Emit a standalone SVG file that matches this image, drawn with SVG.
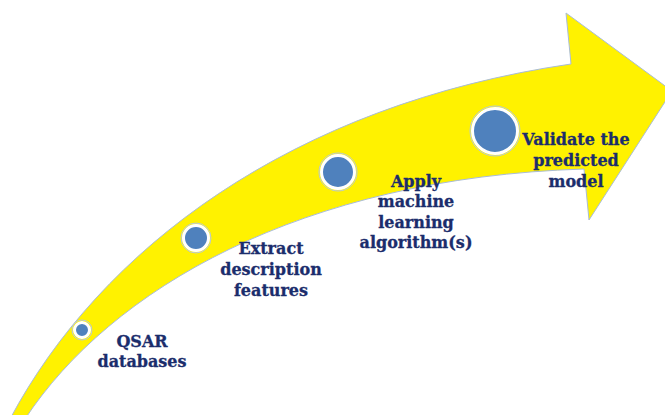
<svg xmlns="http://www.w3.org/2000/svg" width="665" height="415" viewBox="0 0 665 415">
  <style>
    .lbl { font-family: "DejaVu Serif", "Liberation Serif", serif; font-weight: bold; font-size: 16px; fill: #1b2d6c; stroke: #1b2d6c; stroke-width: 0.3; text-anchor: middle; }
    .dot { fill: #4f81bd; stroke: #ffffff; stroke-width: 3; }
    .ring { fill: none; stroke: #b8c8de; stroke-width: 1; }
  </style>
  <rect width="665" height="415" fill="#ffffff"/>
  <g id="arrow">
    <path d="M 10,419 C 100,250 290,105 571,64 L 566,13 L 672,91 L 589,220 L 584,169 C 300,178 110,290 25,419 Z" fill="#fff200" stroke="#a9bcd8" stroke-width="1" stroke-linejoin="miter"/>
  </g>
  <g id="connectors"></g>
  <g id="node-qsar">
    <circle class="ring" cx="82" cy="330" r="10"/>
    <circle class="dot" cx="82" cy="330" r="7.5"/>
    <text class="lbl" x="142" y="347">QSAR</text>
    <text class="lbl" x="142" y="367">databases</text>
  </g>
  <g id="node-extract">
    <circle class="ring" cx="196" cy="238" r="15"/>
    <circle class="dot" cx="196" cy="238" r="12.5"/>
    <text class="lbl" x="271" y="254">Extract</text>
    <text class="lbl" x="271" y="275">description</text>
    <text class="lbl" x="271" y="296">features</text>
  </g>
  <g id="node-apply">
    <circle class="ring" cx="338" cy="172" r="19"/>
    <circle class="dot" cx="338" cy="172" r="16.5"/>
    <text class="lbl" x="416" y="187">Apply</text>
    <text class="lbl" x="416" y="207">machine</text>
    <text class="lbl" x="416" y="228">learning</text>
    <text class="lbl" x="416" y="248">algorithm(s)</text>
  </g>
  <g id="node-validate">
    <circle class="ring" cx="495" cy="131" r="25"/>
    <circle class="dot" cx="495" cy="131" r="22.5"/>
    <text class="lbl" x="576" y="145">Validate the</text>
    <text class="lbl" x="576" y="166">predicted</text>
    <text class="lbl" x="576" y="187">model</text>
  </g>
</svg>
